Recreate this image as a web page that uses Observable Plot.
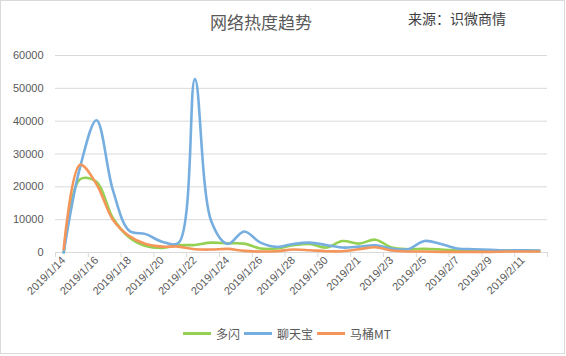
<!DOCTYPE html>
<html><head><meta charset="utf-8">
<script src="https://cdn.jsdelivr.net/npm/d3@7"></script>
<script src="https://cdn.jsdelivr.net/npm/@observablehq/plot@0.6"></script>
<style>
body{margin:0;background:#fff;font-family:"Noto Sans CJK SC","Microsoft YaHei",sans-serif;}
#wrap{position:relative;width:566px;height:356px;overflow:hidden;}
#frame{position:absolute;left:0;top:0;width:563px;height:352px;border:1px solid #d9d9d9;box-sizing:content-box;}
#title{position:absolute;left:0;width:522px;top:9px;text-align:center;font-size:17px;color:#595959;}
#src{position:absolute;left:408px;top:8px;font-size:14px;color:#404040;}
#legend{position:absolute;top:325px;left:183px;font-size:12px;color:#595959;display:flex;align-items:center;}
#legend span.sw{display:inline-block;width:28px;height:3px;margin-right:5px;}
#legend span.lb{margin-right:4px;}
svg{position:absolute;left:0;top:0;}
</style></head>
<body><div id="wrap"><div id="frame"></div><div id="chart"></div>
<div id="title">网络热度趋势</div><div id="src">来源：识微商情</div>
<div id="legend"></div></div>
<script>
const dates = ["2019/1/14","2019/1/15","2019/1/16","2019/1/17","2019/1/18","2019/1/19","2019/1/20","2019/1/21","2019/1/22","2019/1/23","2019/1/24","2019/1/25","2019/1/26","2019/1/27","2019/1/28","2019/1/29","2019/1/30","2019/1/31","2019/2/1","2019/2/2","2019/2/3","2019/2/4","2019/2/5","2019/2/6","2019/2/7","2019/2/8","2019/2/9","2019/2/10","2019/2/11","2019/2/12"];
const duoshan = [0,22300,21500,10500,4600,2000,1400,2200,2300,3000,2800,2700,1200,1200,2200,2600,1500,3500,2700,3900,1500,1000,1100,900,600,500,400,600,600,500];
const liaotianbao = [0,26000,40300,19000,6600,5600,3300,2900,52800,9500,2600,6400,3000,1700,2600,3000,2300,1500,1800,2200,1200,1000,3500,2600,1200,1000,800,600,700,600];
const matongmt = [1000,26700,20800,10000,5000,2600,1800,1800,1000,900,1100,500,300,400,900,700,400,400,1000,1600,600,300,300,200,200,200,200,300,300,300];
const seriesNames = ["多闪","聊天宝","马桶MT"];
const colors = ["#94d152","#76aee0","#f4955a"];
const yTicks = [0,10000,20000,30000,40000,50000,60000];

const rows = [];
[duoshan, liaotianbao, matongmt].forEach((arr, s) => arr.forEach((v, i) => rows.push({i, v, s: seriesNames[s]})));
const labelIdx = dates.map((d,i)=>i).filter(i => i % 2 === 0 && i < dates.length - 1);
const boundaryTicks = d3.range(-0.5, dates.length, 2);

const chart = Plot.plot({
  width: 566, height: 356,
  marginLeft: 55, marginRight: 19, marginTop: 55, marginBottom: 104,
  style: {fontFamily: "Liberation Sans, Arial, sans-serif", fontSize: "11px", color: "#595959", background: "transparent"},
  x: {domain: [-0.5, dates.length - 0.5], axis: null},
  y: {domain: [0, 60000], axis: null},
  color: {domain: seriesNames, range: colors},
  marks: [
    Plot.gridY(yTicks.slice(1), {stroke: "#d9d9d9", strokeOpacity: 1, strokeWidth: 1}),
    Plot.ruleY([0], {stroke: "#d9d9d9", strokeWidth: 1}),
    Plot.axisY(yTicks, {label: null, tickSize: 0, tickPadding: 12, tickFormat: d => String(d), fontSize: 11, fill: "#595959"}),
    Plot.axisX(boundaryTicks, {label: null, tickSize: 5, tickFormat: () => "", stroke: "#d9d9d9"}),
    Plot.axisX(labelIdx, {label: null, tickSize: 0, tickPadding: 6, tickRotate: -45, tickFormat: i => dates[i], fontSize: 11, fill: "#595959"}),
    Plot.line(rows, {x: "i", y: "v", z: "s", stroke: "s", strokeWidth: 2.6, curve: "catmull-rom"})
  ]
});
document.getElementById("chart").appendChild(chart);

const lg = document.getElementById("legend");
seriesNames.forEach((n, k) => {
  const sw = document.createElement("span"); sw.className = "sw"; sw.style.background = colors[k];
  const lb = document.createElement("span"); lb.className = "lb"; lb.textContent = n;
  lg.appendChild(sw); lg.appendChild(lb);
});
</script></body></html>
